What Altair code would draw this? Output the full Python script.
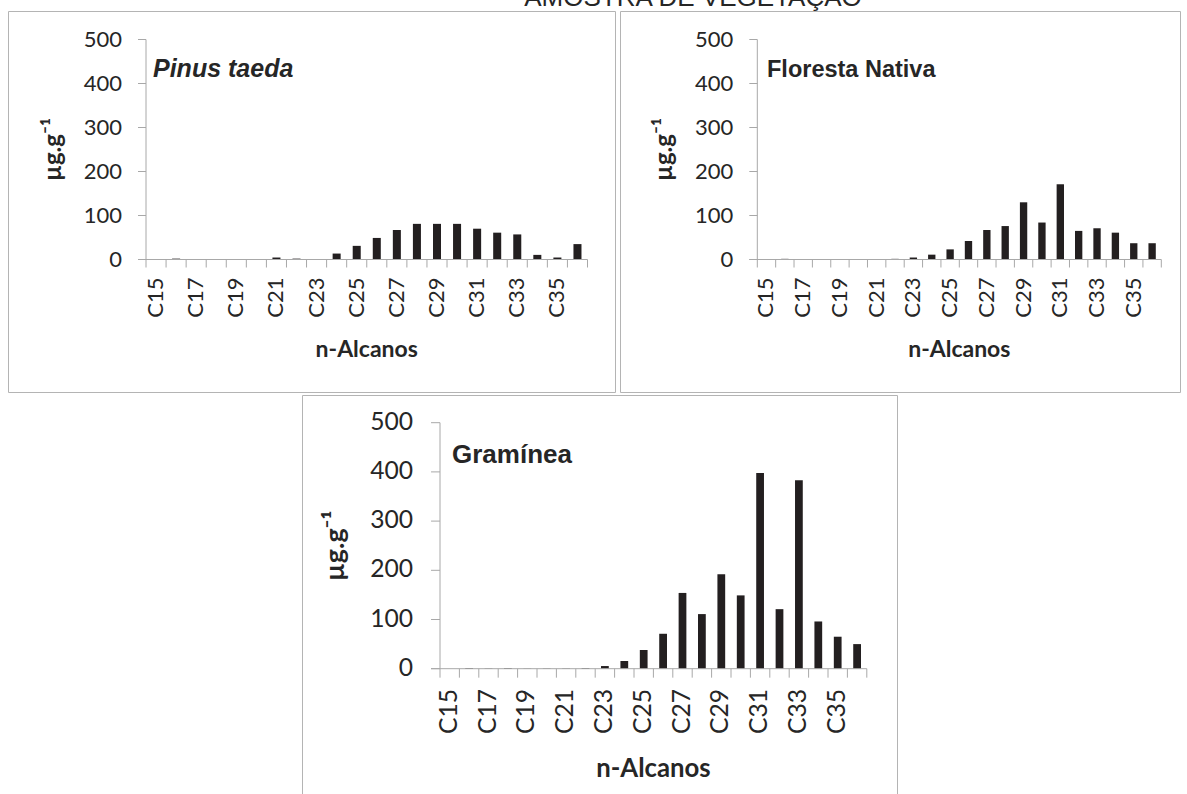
import altair as alt
import pandas as pd

# n-alkane homologues on the category axis
CATEGORIES = ["C15", "C16", "C17", "C18", "C19", "C20", "C21", "C22", "C23", "C24", "C25",
              "C26", "C27", "C28", "C29", "C30", "C31", "C32", "C33", "C34", "C35", "C36"]
X_LABELS = ["C15", "C17", "C19", "C21", "C23", "C25", "C27", "C29", "C31", "C33", "C35"]
Y_TICKS = [0, 100, 200, 300, 400, 500]

# concentrations (µg.g-1) for each vegetation sample
PINUS = [0, 2, 0, 1, 0, 0, 4.5, 2, 0, 13.5, 31, 49, 67, 81, 81, 81, 70, 61, 57, 10.5, 4.5, 35]
FLORESTA = [0, 1.5, 0, 0.8, 0, 0.8, 0.8, 1.5, 4.5, 11, 23, 42, 67, 76, 130, 84, 171, 65, 71, 61, 37, 37]
GRAMINEA = [0, 1.4, 0.7, 1.4, 0.5, 0.7, 0.7, 1.4, 5.4, 15.6, 38, 71, 154, 111, 192, 149, 398, 121, 383, 96, 65, 50]

PANEL_NAMES = ["Pinus taeda", "Floresta Nativa", "Gramínea"]
TITLE = "AMOSTRA DE VEGETAÇÃO"
Y_TITLE = "µg.g⁻¹"
X_TITLE = "n-Alcanos"

W, H = 1187, 794
AXIS_GREY = "#a8a8a8"
FRAME_GREY = "#b4b4b4"
TEXT = "#262626"
BAR = "#231f20"
LABEL_FONT = "Lato"
NAME_FONT = "Liberation Sans"

# each chart: plot-area box (x0..x1, y0 = zero line, y1 = 500 line), frame box, font scale
PANELS = [
    dict(values=PINUS, x0=146, x1=587.5, y0=259.5, y1=39.5, frame=(8.5, 615.5, 11.5, 392.5),
         s=1.0, name_x=153, name_y=77, name_size=25, italic=True),
    dict(values=FLORESTA, x0=757.3, x1=1161.3, y0=259.5, y1=39.5, frame=(620.5, 1180.5, 11.5, 392.5),
         s=1.0, name_x=767, name_y=77, name_size=23.5, italic=False),
    dict(values=GRAMINEA, x0=440, x1=866.8, y0=668.7, y1=422.7, frame=(302.5, 897.5, 395.5, 820),
         s=1.12, name_x=452, name_y=463, name_size=26, italic=False),
]

one_row = pd.DataFrame({"k": [0]})
layers = []

# chart title, cut by the top edge of the page
layers.append(
    alt.Chart(pd.DataFrame({"t": [TITLE]})).mark_text(
        font=NAME_FONT, fontSize=26, color=TEXT, align="center", baseline="alphabetic", clip=True
    ).encode(text="t:N", x=alt.value(693), y=alt.value(6))
)

for i, p in enumerate(PANELS):
    s = p["s"]
    x0, x1, y0, y1 = p["x0"], p["x1"], p["y0"], p["y1"]
    fx0, fx1, fy0, fy1 = p["frame"]
    tick = 8 * s

    bar_x = alt.Scale(domain=CATEGORIES, range=[x0, x1], paddingInner=0.6, paddingOuter=0.3)
    edge_x = alt.Scale(domain=CATEGORIES, range=[x0, x1], paddingInner=0, paddingOuter=0)
    val_y = alt.Scale(domain=[0, 500], range=[y0, y1], nice=False)

    df = pd.DataFrame({"cat": CATEGORIES, "valor": p["values"]})
    ticks_df = pd.DataFrame({"v": Y_TICKS})
    labels_df = pd.DataFrame({"cat": X_LABELS})

    # chart-area frame
    layers.append(
        alt.Chart(one_row).mark_rect(fillOpacity=0, stroke=FRAME_GREY, strokeWidth=1, clip=True).encode(
            x=alt.value(fx0), x2=alt.value(fx1), y=alt.value(fy0), y2=alt.value(fy1)
        )
    )

    # bars
    layers.append(
        alt.Chart(df).mark_bar(color=BAR).encode(
            x=alt.X("cat:N", scale=bar_x, axis=None),
            y=alt.Y("valor:Q", scale=val_y, axis=None),
        )
    )

    # value axis: domain line, ticks and labels
    layers.append(
        alt.Chart(one_row).mark_rule(color=AXIS_GREY, strokeWidth=1).encode(
            x=alt.value(x0), y=alt.value(y1), y2=alt.value(y0)
        )
    )
    layers.append(
        alt.Chart(ticks_df).mark_rule(color=AXIS_GREY, strokeWidth=1).encode(
            y=alt.Y("v:Q", scale=val_y, axis=None), x=alt.value(x0 - tick), x2=alt.value(x0)
        )
    )
    layers.append(
        alt.Chart(ticks_df).mark_text(
            font=LABEL_FONT, fontSize=22 * s, color=TEXT, align="right", baseline="middle"
        ).encode(
            y=alt.Y("v:Q", scale=val_y, axis=None), x=alt.value(x0 - tick - 16 * s), text="v:Q"
        )
    )

    # category axis: domain line, boundary ticks and alternate labels
    layers.append(
        alt.Chart(one_row).mark_rule(color=AXIS_GREY, strokeWidth=1).encode(
            x=alt.value(x0 - tick), x2=alt.value(x1), y=alt.value(y0)
        )
    )
    layers.append(
        alt.Chart(df).mark_rule(color=AXIS_GREY, strokeWidth=1).encode(
            x=alt.X("cat:N", scale=edge_x, axis=None, bandPosition=0),
            y=alt.value(y0), y2=alt.value(y0 + tick)
        )
    )
    layers.append(
        alt.Chart(df).transform_filter(alt.datum.cat == CATEGORIES[-1]).mark_rule(
            color=AXIS_GREY, strokeWidth=1
        ).encode(
            x=alt.X("cat:N", scale=edge_x, axis=None, bandPosition=1),
            y=alt.value(y0), y2=alt.value(y0 + tick)
        )
    )
    layers.append(
        alt.Chart(labels_df).mark_text(
            font=LABEL_FONT, fontSize=22 * s, color=TEXT, angle=270, align="right", baseline="middle"
        ).encode(
            x=alt.X("cat:N", scale=bar_x, axis=None), y=alt.value(y0 + tick + 10 * s), text="cat:N"
        )
    )

    # axis titles
    layers.append(
        alt.Chart(pd.DataFrame({"t": [X_TITLE]})).mark_text(
            font=LABEL_FONT, fontSize=23 * s, fontWeight="bold", color=TEXT,
            align="center", baseline="alphabetic"
        ).encode(text="t:N", x=alt.value((x0 + x1) / 2), y=alt.value(y0 + 97 * s))
    )
    layers.append(
        alt.Chart(pd.DataFrame({"t": [Y_TITLE]})).mark_text(
            font=LABEL_FONT, fontSize=24 * s, fontWeight="bold", color=TEXT,
            angle=270, align="center", baseline="middle"
        ).encode(text="t:N", x=alt.value(x0 - 92.5 * s), y=alt.value((y0 + y1) / 2))
    )

    # sample name
    layers.append(
        alt.Chart(pd.DataFrame({"n": [PANEL_NAMES[i]]})).mark_text(
            font=NAME_FONT, fontSize=p["name_size"], fontWeight="bold",
            fontStyle="italic" if p["italic"] else "normal",
            color=TEXT, align="left", baseline="alphabetic",
        ).encode(text="n:N", x=alt.value(p["name_x"]), y=alt.value(p["name_y"]))
    )

chart = (
    alt.layer(*layers)
    .resolve_scale(x="independent", y="independent")
    .properties(width=W, height=H, padding=0, background="white")
    .configure_view(strokeWidth=0)
)

chart.save("out.html", embed_options={"renderer": "svg", "actions": False})
